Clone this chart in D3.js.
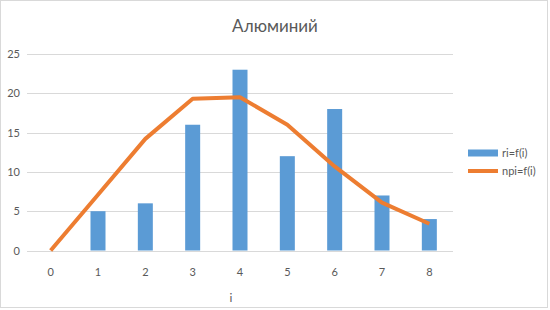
<!DOCTYPE html>
<html>
<head>
<meta charset="utf-8">
<script src="https://cdn.jsdelivr.net/npm/d3@7"></script>
<style>
  body { margin: 0; background: #fff; }
  text { font-family: Lato, "Open Sans", sans-serif; fill: #595959; }
</style>
</head>
<body>
<div id="chart"></div>
<script>
const categories = ["0", "1", "2", "3", "4", "5", "6", "7", "8"];
const riValues = [0, 5, 6, 16, 23, 12, 18, 7, 4];
const npiValues = [0, 7.1, 14.2, 19.3, 19.5, 16.0, 10.7, 6.1, 3.4];
const yTicks = [0, 5, 10, 15, 20, 25];
const seriesNames = ["ri=f(i)", "npi=f(i)"];

const width = 550, height = 310;
const plot = { left: 27, right: 453, top: 54, bottom: 250.5 };

const svg = d3.select("#chart").append("svg")
    .attr("width", width)
    .attr("height", height);

// рамка
svg.append("rect")
    .attr("x", 0.5).attr("y", 0.5)
    .attr("width", width - 3).attr("height", height - 3)
    .attr("fill", "#fff")
    .attr("stroke", "#d9d9d9");

const x = d3.scaleBand()
    .domain(categories)
    .range([plot.left, plot.right]);

const y = d3.scaleLinear()
    .domain([0, 25])
    .range([plot.bottom, plot.top]);

// сетка
svg.append("g")
    .selectAll("line")
    .data(yTicks)
    .join("line")
    .attr("x1", plot.left)
    .attr("x2", plot.right)
    .attr("y1", d => Math.round(y(d)) + 0.5)
    .attr("y2", d => Math.round(y(d)) + 0.5)
    .attr("stroke", "#d9d9d9")
    .attr("stroke-width", 1);

// подписи оси Y
svg.append("g")
    .selectAll("text")
    .data(yTicks)
    .join("text")
    .attr("x", 20)
    .attr("y", d => y(d) + 4)
    .attr("text-anchor", "end")
    .attr("font-size", 11)
    .text(d => d);

// подписи оси X
svg.append("g")
    .selectAll("text")
    .data(categories)
    .join("text")
    .attr("x", d => x(d) + x.bandwidth() / 2)
    .attr("y", 276)
    .attr("text-anchor", "middle")
    .attr("font-size", 11)
    .text(d => d);

// столбцы
const barW = 15;
svg.append("g")
    .selectAll("rect")
    .data(riValues)
    .join("rect")
    .attr("x", (d, i) => x(categories[i]) + x.bandwidth() / 2 - barW / 2)
    .attr("y", d => y(d))
    .attr("width", barW)
    .attr("height", d => y(0) - y(d))
    .attr("fill", "#5b9bd5");

// линия
const line = d3.line()
    .x((d, i) => x(categories[i]) + x.bandwidth() / 2)
    .y(d => y(d));

svg.append("path")
    .datum(npiValues)
    .attr("d", line)
    .attr("fill", "none")
    .attr("stroke", "#ed7d31")
    .attr("stroke-width", 4)
    .attr("stroke-linejoin", "round");

// заголовок
svg.append("text")
    .attr("x", 275)
    .attr("y", 32)
    .attr("text-anchor", "middle")
    .attr("font-size", 17)
    .text("Алюминий");

// подпись оси X
svg.append("text")
    .attr("x", 231)
    .attr("y", 302)
    .attr("text-anchor", "middle")
    .attr("font-size", 12)
    .text("i");

// легенда
const legendColors = ["#5b9bd5", "#ed7d31"];
const legend = svg.append("g")
    .selectAll("g")
    .data(seriesNames)
    .join("g")
    .attr("transform", (d, i) => `translate(468, ${153 + i * 18})`);

legend.append("rect")
    .attr("x", 0)
    .attr("y", (d, i) => i === 0 ? -3.5 : -2)
    .attr("width", 30)
    .attr("height", (d, i) => i === 0 ? 7 : 4)
    .attr("fill", (d, i) => legendColors[i]);

legend.append("text")
    .attr("x", 34)
    .attr("y", 4)
    .attr("font-size", 11)
    .text(d => d);
</script>
</body>
</html>
